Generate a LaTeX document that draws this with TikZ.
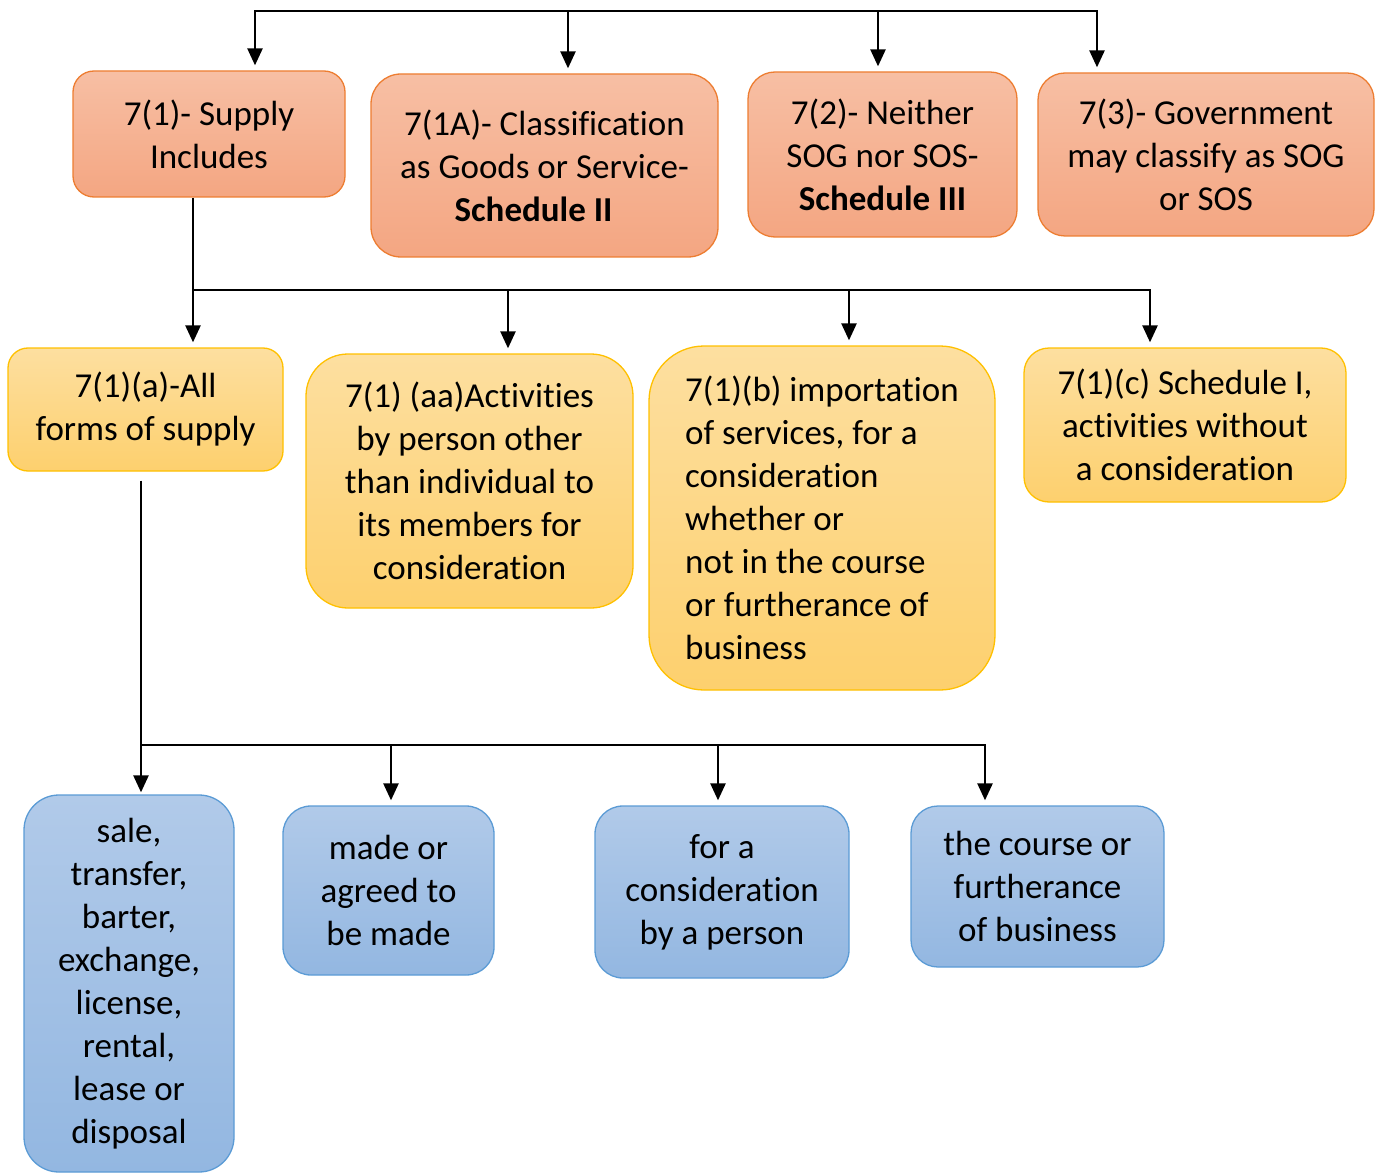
\documentclass[tikz,border=0pt]{standalone}
\usepackage{fontspec}
\setmainfont[Ligatures={NoCommon}]{Carlito}
\usetikzlibrary{arrows.meta}
\definecolor{salTop}{RGB}{247,191,164}
\definecolor{salBot}{RGB}{244,166,130}
\definecolor{salLine}{RGB}{237,125,49}
\definecolor{yelTop}{RGB}{253,223,160}
\definecolor{yelBot}{RGB}{253,208,110}
\definecolor{yelLine}{RGB}{255,192,0}
\definecolor{bluTop}{RGB}{177,202,233}
\definecolor{bluBot}{RGB}{147,183,225}
\definecolor{bluLine}{RGB}{91,155,213}
\tikzset{
  box/.style={draw, line width=1.3pt, inner sep=0pt, align=center,
    font=\fontsize{35}{43}\selectfont},
  salbox/.style={box, draw=salLine, top color=salTop, bottom color=salBot},
  yelbox/.style={box, draw=yelLine, top color=yelTop, bottom color=yelBot},
  blubox/.style={box, draw=bluLine, top color=bluTop, bottom color=bluBot},
  link/.style={line width=2.5pt, line join=miter},
  arr/.style={link, -{Triangle[width=15pt,length=17pt]}, shorten >=5pt},
}
\begin{document}
\begin{tikzpicture}[x=1pt,y=-1pt]
\useasboundingbox (0,0) rectangle (1378,1174);

% top row
\node[salbox, minimum width=272pt, minimum height=126pt, rounded corners=21pt] (A) at (209,134)
  {7(1)- Supply\\Includes};
\node[salbox, minimum width=347pt, minimum height=183pt, rounded corners=30pt] (B) at (544.5,165.5)
  {7(1A)- Classification\\as Goods or Service-\\\textbf{Schedule II}\hspace*{22pt}};
\node[salbox, minimum width=269pt, minimum height=165pt, rounded corners=27pt] (C) at (882.5,154.5)
  {7(2)- Neither\\SOG nor SOS-\\\textbf{Schedule III}};
\node[salbox, minimum width=336pt, minimum height=163pt, rounded corners=27pt] (D) at (1206,154.5)
  {7(3)- Government\\may classify as SOG\\or SOS};

% second row
\node[yelbox, minimum width=275pt, minimum height=123pt, rounded corners=20pt] (E) at (145.5,409.5)
  {7(1)(a)-All\\forms of supply};
\node[yelbox, minimum width=327pt, minimum height=254pt, rounded corners=42pt] (F) at (469.5,481)
  {7(1) (aa)Activities\\by person other\\than individual to\\its members for\\consideration};
\node[yelbox, minimum width=346pt, minimum height=344pt, rounded corners=55pt, align=left] (G) at (822,518)
  {7(1)(b) importation\\of services, for a\\consideration\\whether or\\not in the course\\or furtherance of\\business};
\node[yelbox, minimum width=322pt, minimum height=154pt, rounded corners=25pt] (H) at (1185,425)
  {7(1)(c) Schedule I,\\activities without\\a consideration};

% third row
\node[blubox, minimum width=210pt, minimum height=377pt, rounded corners=35pt] (I) at (129,983.5)
  {sale,\\transfer,\\barter,\\exchange,\\license,\\rental,\\lease or\\disposal};
\node[blubox, minimum width=211pt, minimum height=169pt, rounded corners=28pt] (J) at (388.5,890.5)
  {made or\\agreed to\\be made};
\node[blubox, minimum width=254pt, minimum height=172pt, rounded corners=28pt] (K) at (722,892)
  {for a\\consideration\\by a person};
\node[blubox, minimum width=253pt, minimum height=161pt, rounded corners=27pt] (L) at (1037.5,886.5)
  {the course or\\furtherance\\of business};

% top distribution bus
\coordinate (t0) at (255,11);
\coordinate (t1) at (568,11);
\coordinate (t2) at (878,11);
\coordinate (t3) at (1097,11);
\draw[arr] (t3) -- (t0) -- (t0 |- A.north);
\draw[arr] (t0) -- (t3) -- (t3 |- D.north);
\draw[arr] (t1) -- (t1 |- B.north);
\draw[arr] (t2) -- (t2 |- C.north);

% second distribution bus
\coordinate (s0) at (193,290);
\coordinate (s1) at (508,290);
\coordinate (s2) at (849,290);
\coordinate (s3) at (1150,290);
\draw[arr] (A.south -| s0) -- (s0) -- (s0 |- E.north);
\draw[arr] (s0) -- (s3) -- (s3 |- H.north);
\draw[arr] (s1) -- (s1 |- F.north);
\draw[arr] (s2) -- (s2 |- G.north);

% third distribution bus
\coordinate (u0) at (141,745);
\coordinate (u1) at (391,745);
\coordinate (u2) at (718,745);
\coordinate (u3) at (985,745);
\draw[arr, shorten <=9pt, shorten >=2pt] (E.south -| u0) -- (u0) -- (u0 |- I.north);
\draw[arr] (u0) -- (u3) -- (u3 |- L.north);
\draw[arr] (u1) -- (u1 |- J.north);
\draw[arr] (u2) -- (u2 |- K.north);
\end{tikzpicture}
\end{document}
